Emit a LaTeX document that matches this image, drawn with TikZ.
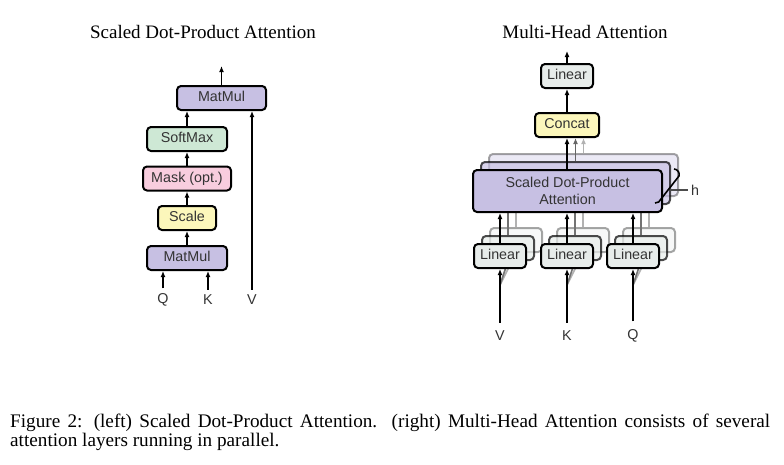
\documentclass[tikz,border=0pt]{standalone}
\usepackage{fontspec}
\setmainfont{Liberation Serif}
\setsansfont{Liberation Sans}
\usetikzlibrary{positioning,arrows.meta}

\definecolor{matmulcol}{RGB}{199,192,227}
\definecolor{softmaxcol}{RGB}{206,232,213}
\definecolor{maskcol}{RGB}{248,205,222}
\definecolor{scalecol}{RGB}{252,247,187}
\definecolor{linearcol}{RGB}{231,236,234}

\begin{document}
\begin{tikzpicture}[x=1pt,y=-1pt,
    block/.style={draw,line width=2pt,rounded corners=4pt,minimum height=24pt,inner sep=2pt,text=black!80,font=\sffamily\fontsize{14.3}{17}\selectfont},
    oneline/.style={text height=10pt,text depth=3pt},
    arr/.style={line width=1.6pt,-{Latex[length=6pt,width=5pt]}},
    iolabel/.style={font=\sffamily\fontsize{14.3}{14}\selectfont,text=black!80,inner sep=0pt},
    heading/.style={font=\fontsize{19}{19}\selectfont,inner sep=0pt}]
    \useasboundingbox (0,0) rectangle (784,464);

    % left: scaled dot-product attention
    \node[heading] (lhead) at (203,32) {Scaled Dot-Product Attention};
    \node[block,oneline,fill=matmulcol,minimum width=80pt] (mm1) at (187,258) {MatMul};
    \node[block,oneline,fill=scalecol,minimum width=58pt] (scale) [above=14pt of mm1] {Scale};
    \node[block,oneline,fill=maskcol,minimum width=88pt] (mask) [above=13.5pt of scale] {Mask (opt.)};
    \node[block,oneline,fill=softmaxcol,minimum width=80pt] (softmax) [above=13.5pt of mask] {SoftMax};
    \node[block,oneline,fill=matmulcol,minimum width=89pt] (mm2) at (221.5,98) {MatMul};
    \coordinate (lout) at (221.5,66);

    \node[iolabel] (q) at (163,300) {Q};
    \node[iolabel] (k) at (208,300) {K};
    \node[iolabel] (v) at (252,300) {V};

    \draw[arr] ([yshift=5pt]q.north) -- (q |- mm1.south);
    \draw[arr] ([yshift=5pt]k.north) -- (k |- mm1.south);
    \draw[arr] ([yshift=5pt]v.north) -- (v |- mm2.south);
    \draw[arr] (mm1) -- (scale);
    \draw[arr] (scale) -- (mask);
    \draw[arr] (mask) -- (softmax);
    \draw[arr] (softmax) -- (softmax |- mm2.south);
    \draw[arr] (mm2) -- (lout);

    % right: multi-head attention
    \node[heading] (rhead) at (585,32) {Multi-Head Attention};

    % stacked heads behind
    \node[block,fill=matmulcol,minimum width=189pt,minimum height=42pt,opacity=0.35] (sdpa3) at (583.5,175) {};
    \node[block,fill=matmulcol,minimum width=189pt,minimum height=42pt,opacity=0.7] (sdpa2) at (575.5,183) {};
    \foreach \n/\x in {lv/500,lk/567,lq/633}{
        \node[block,fill=linearcol,minimum width=52pt,opacity=0.35] (\n3) at (\x+16,240) {};
        \node[block,fill=linearcol,minimum width=52pt,opacity=0.7] (\n2) at (\x+8,248) {};
        \draw[line width=1.6pt,black!30] (\n3.north) -- (\n3 |- sdpa3.south);
        \draw[line width=1.6pt,black!55] (\n2.north) -- (\n2 |- sdpa2.south);
        \draw[line width=1.6pt,black!30] (\x,285) -- (\n3.south);
        \draw[line width=1.6pt,black!55] (\x,285) -- (\n2.south);
    }

    \node[block,fill=matmulcol,minimum width=189pt,minimum height=42pt,align=center] (sdpa) at (567.5,191) {Scaled Dot-Product\\Attention};
    \node[block,oneline,fill=linearcol,minimum width=52pt] (lv) at (500,256) {Linear};
    \node[block,oneline,fill=linearcol,minimum width=52pt] (lk) at (567,256) {Linear};
    \node[block,oneline,fill=linearcol,minimum width=52pt] (lq) at (633,256) {Linear};
    \node[block,oneline,fill=scalecol,minimum width=64pt] (concat) at (567,125) {Concat};
    \node[block,oneline,fill=linearcol,minimum width=52pt] (lout2) at (567,76) {Linear};
    \coordinate (rout) at (567,51);

    \node[iolabel] (vr) at (500,336) {V};
    \node[iolabel] (kr) at (567,336) {K};
    \node[iolabel] (qr) at (633,336) {Q};

    \draw[arr] ([yshift=8pt]vr.north) -- (lv);
    \draw[arr] ([yshift=8pt]kr.north) -- (lk);
    \draw[arr] ([yshift=8pt]qr.north) -- (lq);
    \draw[arr] (lv) -- (lv |- sdpa.south);
    \draw[arr] (lk) -- (lk |- sdpa.south);
    \draw[arr] (lq) -- (lq |- sdpa.south);
    \draw[arr] (concat |- sdpa.north) -- (concat);
    \draw[arr,black!60] (sdpa2.north) -- (sdpa2.north |- concat.south);
    \draw[arr,black!30] (sdpa3.north) -- (sdpa3.north |- concat.south);
    \draw[arr] (concat) -- (lout2);
    \draw[arr] (lout2) -- (rout);

    % h brace
    \draw[line width=1.6pt] (674,169) to[out=0,in=70] (679,176) -- (661,199) to[out=250,in=0] (655,203);
    \draw[line width=1.2pt,black!70] (670,190) -- (688,190);
    \node[iolabel] (h) at (695,190) {h};

    % caption
    \node[anchor=base west,inner sep=0pt,font=\fontsize{19.2}{21}\selectfont] (cap1) at (10,427)
        {\hbox to 760pt{Figure 2: (left) Scaled Dot-Product Attention.\ \ (right) Multi-Head Attention consists of several}};
    \node[anchor=base west,inner sep=0pt,font=\fontsize{19.2}{21}\selectfont] (cap2) at (10,446)
        {attention layers running in parallel.};
\end{tikzpicture}
\end{document}
